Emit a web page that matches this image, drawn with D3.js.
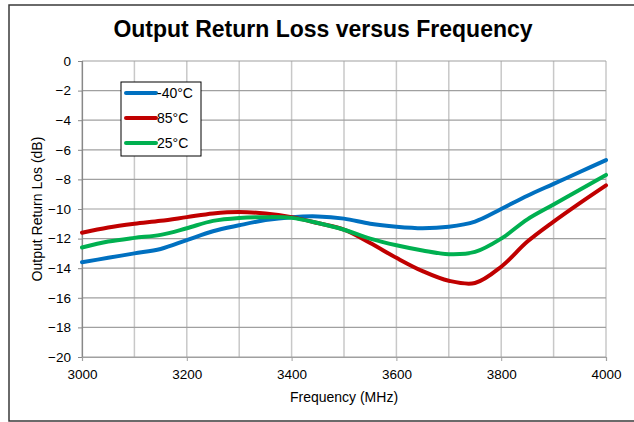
<!DOCTYPE html>
<html>
<head>
<meta charset="utf-8">
<script src="https://cdn.jsdelivr.net/npm/d3@7/dist/d3.min.js"></script>
<style>
  html, body { margin: 0; padding: 0; background: #fff; }
  svg { display: block; font-family: "Liberation Sans", Arial, sans-serif; }
</style>
</head>
<body>
<svg id="chart" width="634" height="422"></svg>
<script>
const title = "Output Return Loss versus Frequency";
const xTitle = "Frequency (MHz)";
const yTitle = "Output Return Los (dB)";
const freqs = [3000, 3050, 3100, 3150, 3200, 3250, 3300, 3350, 3400, 3450, 3500,
               3550, 3600, 3650, 3700, 3750, 3800, 3850, 3900, 3950, 4000];
const seriesNames = ["-40°C", "85°C", "25°C"];
const seriesColors = ["#0070c0", "#c00000", "#00b050"];
const valsM40 = [-13.6, -13.3, -13.0, -12.7, -12.1, -11.5, -11.1, -10.75, -10.55, -10.5, -10.65,
                 -11.0, -11.2, -11.3, -11.2, -10.85, -10.0, -9.1, -8.3, -7.5, -6.7];
const vals85  = [-11.6, -11.25, -11.0, -10.8, -10.55, -10.3, -10.2, -10.3, -10.55, -10.95, -11.4,
                 -12.3, -13.3, -14.2, -14.85, -15.0, -13.9, -12.2, -10.85, -9.6, -8.4];
const vals25  = [-12.6, -12.2, -11.95, -11.75, -11.3, -10.8, -10.6, -10.55, -10.6, -10.95, -11.4,
                 -12.0, -12.45, -12.8, -13.05, -12.9, -12.0, -10.7, -9.7, -8.7, -7.7];
const seriesValues = [valsM40, vals85, vals25];
const xTicks = [3000, 3200, 3400, 3600, 3800, 4000];
const xGrid = [3000, 3100, 3200, 3300, 3400, 3500, 3600, 3700, 3800, 3900, 4000];
const yTicks = [0, -2, -4, -6, -8, -10, -12, -14, -16, -18, -20];

const svg = d3.select("#chart");
const W = 634, H = 422;
const plot = {left: 82, right: 606, top: 61, bottom: 357};

const x = d3.scaleLinear().domain([3000, 4000]).range([plot.left, plot.right]);
const y = d3.scaleLinear().domain([-20, 0]).range([plot.bottom, plot.top]);

// outer frame (no right border visible in reference)
svg.append("path")
  .attr("d", `M ${W + 5} 5 L 9 5 L 9 421 L ${W + 5} 421`)
  .attr("fill", "none").attr("stroke", "#3a3a3a").attr("stroke-width", 1.5);

// title
svg.append("text").attr("x", 323).attr("y", 37)
  .attr("text-anchor", "middle").attr("font-size", 23).attr("font-weight", "bold")
  .attr("fill", "#000").text(title);

// vertical grid
svg.append("g").selectAll("line").data(xGrid).join("line")
  .attr("x1", d => x(d)).attr("x2", d => x(d))
  .attr("y1", plot.top).attr("y2", plot.bottom)
  .attr("stroke", "#c8c8c8").attr("stroke-width", 1.5);

// horizontal grid
svg.append("g").selectAll("line").data(yTicks).join("line")
  .attr("x1", plot.left).attr("x2", plot.right)
  .attr("y1", d => y(d)).attr("y2", d => y(d))
  .attr("stroke", "#a0a0a0").attr("stroke-width", 1.2);

// axes
const yAxis = d3.axisLeft(y).tickValues(yTicks).tickSize(4).tickPadding(7).tickFormat(d3.format("d"));
const gy = svg.append("g").attr("transform", `translate(${plot.left},0)`).call(yAxis);
gy.select(".domain").attr("stroke", "#888").attr("stroke-width", 1.2);
gy.selectAll(".tick line").attr("stroke", "#888");
gy.selectAll(".tick text").attr("font-size", 13.5).attr("fill", "#000")
  .attr("font-family", "Liberation Sans, Arial, sans-serif");

const xAxis = d3.axisBottom(x).tickValues(xTicks).tickSize(4).tickPadding(8).tickFormat(d3.format("d"));
const gx = svg.append("g").attr("transform", `translate(0,${plot.bottom})`).call(xAxis);
gx.select(".domain").attr("stroke", "#a0a0a0").attr("stroke-width", 1.2);
gx.selectAll(".tick line").attr("stroke", "#a0a0a0");
gx.selectAll(".tick text").attr("font-size", 13.5).attr("fill", "#000")
  .attr("font-family", "Liberation Sans, Arial, sans-serif");

// axis titles
svg.append("text").attr("x", (plot.left + plot.right) / 2).attr("y", 402)
  .attr("text-anchor", "middle").attr("font-size", 14).attr("fill", "#000").text(xTitle);
svg.append("text").attr("transform", `translate(42,${(plot.top + plot.bottom) / 2}) rotate(-90)`)
  .attr("text-anchor", "middle").attr("font-size", 14).attr("fill", "#000").text(yTitle);

// lines
const line = d3.line().x(d => x(d[0])).y(d => y(d[1])).curve(d3.curveCatmullRom.alpha(0.5));
seriesValues.forEach((vals, i) => {
  svg.append("path")
    .datum(freqs.map((f, j) => [f, vals[j]]))
    .attr("fill", "none").attr("stroke", seriesColors[i])
    .attr("stroke-width", 4).attr("stroke-linejoin", "round").attr("stroke-linecap", "round")
    .attr("d", line);
});

// legend
const lg = svg.append("g");
lg.append("rect").attr("x", 121).attr("y", 82).attr("width", 80).attr("height", 74)
  .attr("fill", "#fff").attr("stroke", "#000").attr("stroke-width", 1);
seriesNames.forEach((name, i) => {
  const yy = 93 + i * 25;
  lg.append("line").attr("x1", 126).attr("x2", 156).attr("y1", yy).attr("y2", yy)
    .attr("stroke", seriesColors[i]).attr("stroke-width", 4).attr("stroke-linecap", "round");
  lg.append("text").attr("x", 157).attr("y", yy).attr("dy", "0.36em")
    .attr("font-size", 14).attr("fill", "#000").text(name);
});
</script>
</body>
</html>
